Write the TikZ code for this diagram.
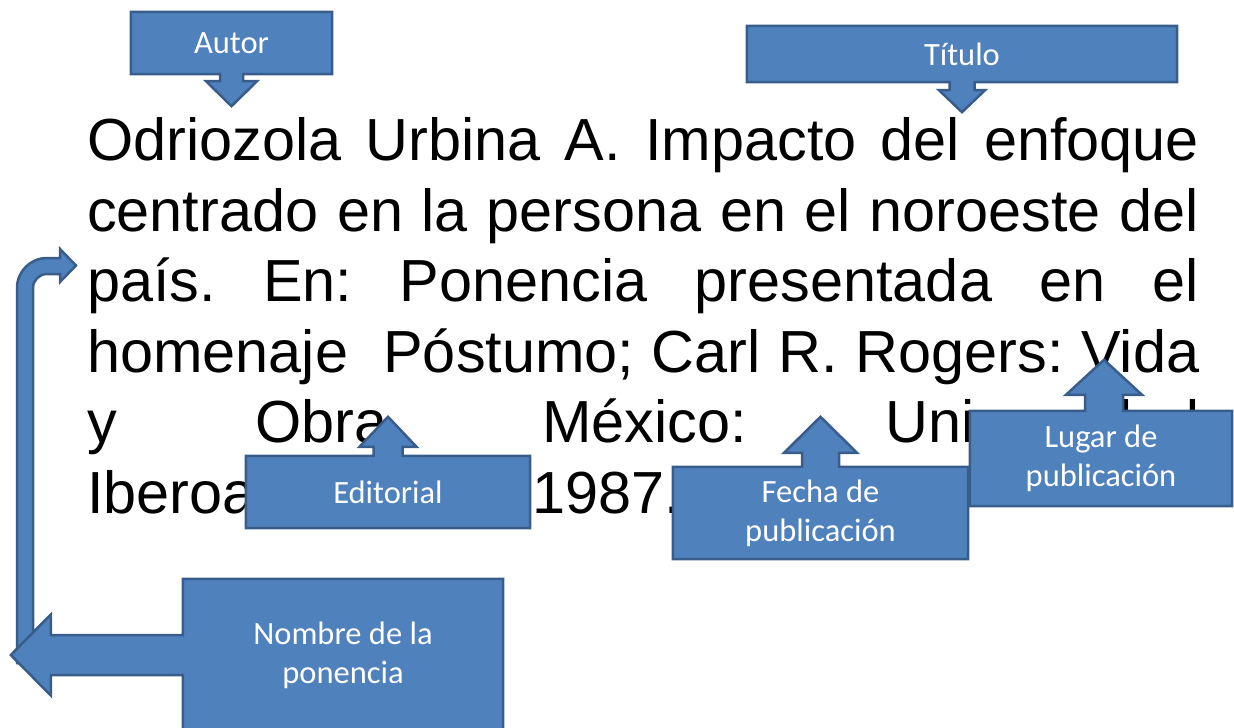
\documentclass[tikz,border=0pt]{standalone}
\usepackage{fontspec}
\setmainfont{Liberation Sans}
\newfontfamily\carlito{Carlito}
\usetikzlibrary{calc}

\definecolor{azul}{HTML}{4F81BD}
\definecolor{borde}{HTML}{385D8A}
\newcommand\fuentecita{\fontsize{59.4bp}{70.4bp}\selectfont\frenchspacing\tolerance=10000\hyphenpenalty=10000}

\pgfdeclarelayer{fondo}
\pgfsetlayers{fondo,main}

\tikzset{
  etiqueta/.style={inner sep=0, text=white, align=center, font=\carlito\fontsize{32.5bp}{39bp}\selectfont},
  flecha/.style={fill=azul, draw=borde, line width=2.5bp, line join=miter}
}

\begin{document}
\begin{tikzpicture}[x=1bp,y=-1bp]
\useasboundingbox (0,0) rectangle (1234,728);
% textos de las cajas
\node[etiqueta, minimum width=201bp, minimum height=62bp] (autor) at (231.5,43) {Autor};
\node[etiqueta, minimum width=430bp, minimum height=56bp] (titulo) at (962,54) {Título};
\node[etiqueta, minimum width=284bp, minimum height=72bp] (editorial) at (388,492) {Editorial};
\node[etiqueta, minimum width=295bp, minimum height=92bp] (fecha) at (820.5,513) {Fecha de\\publicación};
\node[etiqueta, minimum width=262bp, minimum height=95bp] (lugar) at (1101,458.5) {Lugar de\\publicación};
\node[etiqueta, minimum width=320bp, minimum height=152bp] (nombre) at (343,655) {Nombre de la\\ponencia};

\begin{pgfonlayer}{fondo}
\node[anchor=base west, inner sep=0, text width=1112bp, align=justify, font=\fuentecita] (cita) at (87,161)
  {Odriozola Urbina A. Impacto del enfoque\linebreak centrado en la persona en el noroeste del\linebreak
   país. En: Ponencia presentada en el\linebreak homenaje\ \ Póstumo; Carl R. Rogers: Vida\linebreak
   y Obra. México: Universidad\linebreak Iberoamericana; 1987.};

% flechas hacia abajo
\draw[flecha] (autor.north west) -- (autor.north east) -- (autor.south east)
  -- ($(autor.south)+(11.5,0)$) -- ++(0,7) -- ++(14,0) -- ++(-25.5,25) -- ++(-25.5,-25)
  -- ++(14,0) -- ++(0,-7) -- (autor.south west) -- cycle;
\draw[flecha] (titulo.north west) -- (titulo.north east) -- (titulo.south east)
  -- ($(titulo.south)+(12.5,0)$) -- ++(0,8) -- ++(10.5,0) -- ++(-23,22) -- ++(-23,-22)
  -- ++(10.5,0) -- ++(0,-8) -- (titulo.south west) -- cycle;
% flechas hacia arriba
\draw[flecha] (editorial.south west) -- (editorial.south east) -- (editorial.north east)
  -- ($(editorial.north)+(14.5,0)$) -- ++(0,-9) -- ++(14,0) -- ++(-28.5,-30) -- ++(-28.5,30)
  -- ++(14,0) -- ++(0,9) -- (editorial.north west) -- cycle;
\draw[flecha] (fecha.south west) -- (fecha.south east) -- (fecha.north east)
  -- ($(fecha.north)+(18.5,0)$) -- ++(0,-14) -- ++(18,0) -- ++(-36.5,-36) -- ++(-36.5,36)
  -- ++(18,0) -- ++(0,14) -- (fecha.north west) -- cycle;
\draw[flecha] (lugar.south west) -- (lugar.south east) -- (lugar.north east)
  -- ($(lugar.north)+(22,0)$) -- ++(0,-16) -- ++(19,0) -- ++(-38,-35) -- ++(-38,35)
  -- ++(19,0) -- ++(0,16) -- (lugar.north west) -- cycle;

% flecha doblada
\draw[flecha] (17,663) -- (17,288) .. controls (17,271.4) and (30.4,258) .. (47,258) -- (60,258)
  -- (60,249) -- (76,265.5) -- (60,282) -- (60,274) -- (47,274)
  .. controls (39.3,274) and (33,280.3) .. (33,288) -- (33,663) -- cycle;

% flecha hacia la izquierda
\draw[flecha] (nombre.north west) -- (nombre.north east) -- (nombre.south east) -- (nombre.south west)
  -- ($(nombre.west)+(0,20)$) -- ++(-132,0) -- ++(0,20.5) -- ++(-40,-40.5) -- ++(40,-40.5)
  -- ++(0,20.5) -- ++(132,0) -- cycle;
\end{pgfonlayer}
\end{tikzpicture}
\end{document}
